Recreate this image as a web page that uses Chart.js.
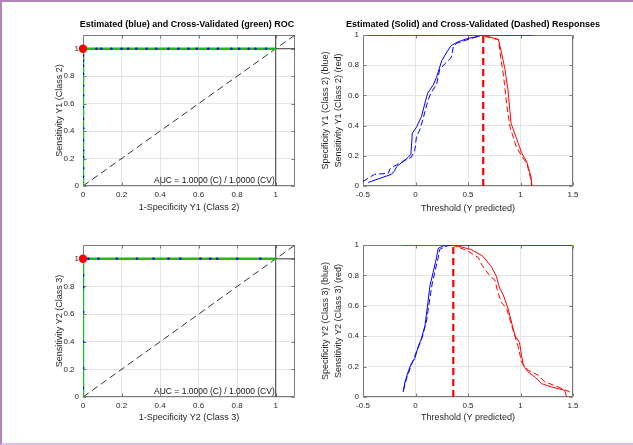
<!DOCTYPE html>
<html><head><meta charset="utf-8">
<script src="https://cdn.jsdelivr.net/npm/chart.js@4.4.1/dist/chart.umd.min.js"></script>
<style>
html,body{margin:0;padding:0;background:#fff;}
#fig{position:relative;width:633px;height:445px;overflow:hidden;background:#fff;}
canvas{position:absolute;}
#frame{position:absolute;left:0;top:0;width:633px;height:445px;box-sizing:border-box;border-top:2px solid #b583bb;border-left:2px solid #b583bb;border-bottom:2px solid #d9c0df;pointer-events:none;}
</style></head><body>
<div id="fig">
<canvas id="c1" width="374" height="222" style="left:0;top:0"></canvas>
<canvas id="c2" width="314" height="222" style="left:316px;top:0"></canvas>
<canvas id="c3" width="316" height="223" style="left:0;top:222px"></canvas>
<canvas id="c4" width="317" height="223" style="left:316px;top:222px"></canvas>
<div id="frame"></div>
</div>
<script>
// ---------- tick values / labels ----------
const rocTicks = [0, 0.2, 0.4, 0.6, 0.8, 1];
const rocXLabels = ['0', '0.2', '0.4', '0.6', '0.8', '1'];
const rocYLabels = ['0', '0.2\u2007', '0.4\u2007', '0.6\u2007', '0.8\u2007', '1'];
const respXTicks = [-0.5, 0, 0.5, 1, 1.5];
const respXLabels = ['-0.5', '0', '0.5', '1', '1.5'];
const respYTicks = [0, 0.2, 0.4, 0.6, 0.8, 1];
const respYLabels = ['0', '0.2', '0.4', '0.6', '0.8', '1'];

// ---------- ROC Y1 (Class 2) ----------
const roc1EstFpr = [0,0,0,0,0,0,0,0,0,0,0,0,0,0,0, 0.07,0.095,0.147,0.2,0.234,0.277,0.33,0.38,0.443,0.495,0.547,0.59,0.65,0.70,0.77,0.81,0.86,0.895,0.95];
const roc1EstTpr = [0.067,0.13,0.21,0.26,0.333,0.42,0.49,0.575,0.66,0.73,0.817,0.877,0.913,0.95,1, 1,1,1,1,1,1,1,1,1,1,1,1,1,1,1,1,1,1,1];
const roc1CvFpr = [0, 0, 1];
const roc1CvTpr = [0, 1, 1];
const roc1OptFpr = [0];
const roc1OptTpr = [1];
const auc1Text = 'AUC = 1.0000 (C) / 1.0000 (CV)';

// ---------- ROC Y2 (Class 3) ----------
const roc2EstFpr = [0,0,0,0,0,0,0, 0.028,0.08,0.175,0.28,0.366,0.444,0.505,0.61,0.66,0.696,0.8,0.92];
const roc2EstTpr = [0.065,0.21,0.4,0.615,0.795,0.88,1, 1,1,1,1,1,1,1,1,1,1,1,1];
const roc2CvFpr = [0, 0, 1];
const roc2CvTpr = [0, 1, 1];
const roc2OptFpr = [0];
const roc2OptTpr = [1];
const auc2Text = 'AUC = 1.0000 (C) / 1.0000 (CV)';

// reference lines of ROC plots
const diagX = [0, 1.1];
const diagY = [0, 1.1];
const refVX = [1, 1];
const refVY = [0, 1.1];
const refHX = [1, 1.1];
const refHY = [1, 1];

// ---------- Responses Y1 ----------
const r1SpecEstX = [-0.45,-0.23,-0.20,-0.18,-0.07,-0.044,-0.03,0.01,0.057,0.105,0.12,0.17,0.2,0.25,0.31,0.34,0.41,0.5,0.6,0.63,1.12];
const r1SpecEstY = [0.024,0.077,0.10,0.128,0.19,0.21,0.35,0.39,0.46,0.59,0.62,0.67,0.72,0.83,0.90,0.93,0.956,0.978,0.99,1,1];
const r1SpecCvX = [-0.5,-0.43,-0.39,-0.26,-0.24,-0.165,-0.07,-0.04,-0.006,0.01,0.04,0.07,0.12,0.15,0.2,0.23,0.28,0.34,0.36,0.39,0.5,0.61,0.65];
const r1SpecCvY = [0.03,0.06,0.077,0.084,0.117,0.146,0.18,0.19,0.24,0.33,0.37,0.44,0.57,0.62,0.67,0.77,0.81,0.85,0.92,0.945,0.97,0.995,1];
const r1SensEstX = [-0.45,0.63,0.69,0.79,0.82,0.85,0.88,0.91,0.98,1.01,1.06,1.1,1.11];
const r1SensEstY = [1,1,0.99,0.97,0.88,0.78,0.64,0.415,0.28,0.22,0.16,0.06,0];
const r1SensCvX = [-0.45,0.61,0.72,0.79,0.81,0.84,0.87,0.9,0.96,1.01,1.06,1.1,1.105];
const r1SensCvY = [1,1,0.98,0.97,0.86,0.72,0.53,0.39,0.26,0.2,0.15,0.04,0];
const r1Threshold = 0.645;

// ---------- Responses Y2 ----------
const r2SpecEstX = [-0.117,-0.10,-0.07,-0.04,-0.006,0.025,0.057,0.09,0.12,0.137,0.168,0.2,0.216,0.26,0.31,1.49];
const r2SpecEstY = [0.033,0.10,0.166,0.22,0.254,0.33,0.386,0.47,0.63,0.73,0.82,0.916,0.978,0.993,1,1];
const r2SpecCvX = [-0.117,-0.086,-0.04,0.01,0.057,0.105,0.137,0.16,0.19,0.216,0.23,0.28,0.34];
const r2SpecCvY = [0.04,0.12,0.21,0.3,0.376,0.5,0.65,0.75,0.84,0.916,0.97,0.99,1];
const r2SensEstX = [-0.117,0.34,0.406,0.53,0.64,0.72,0.77,0.8,0.835,0.88,0.93,0.95,0.99,1.025,1.07,1.14,1.2,1.295,1.42,1.44];
const r2SensEstY = [1,1,0.993,0.97,0.927,0.86,0.795,0.717,0.673,0.585,0.45,0.4,0.36,0.21,0.166,0.13,0.088,0.066,0.044,0];
const r2SensCvX = [0.34,0.406,0.5,0.6,0.63,0.71,0.755,0.787,0.82,0.867,0.914,0.978,1.01,1.07,1.17,1.23,1.36,1.47];
const r2SensCvY = [1,0.987,0.96,0.916,0.87,0.795,0.77,0.684,0.62,0.585,0.475,0.33,0.23,0.177,0.143,0.1,0.066,0.033];
const r2Threshold = 0.36;

// ---------- styling ----------
const FONT = '"Liberation Sans", Arial, Helvetica, sans-serif';
const TXT = '#262626';
const GRID = '#e4e4e4';
const BOX = '#7a7a7a';
const BLUE = '#0000ff';
const RED = '#ff0000';
const GREEN = '#16c016';

const zip = (xs, ys) => xs.map((x, i) => ({x: x, y: ys[i]}));

const boxPlugin = {
  id: 'box',
  beforeDatasetsDraw(chart) {
    const {ctx, chartArea: a, scales} = chart;
    ctx.save();
    ctx.strokeStyle = BOX;
    ctx.lineWidth = 1;
    ctx.beginPath();
    const L = Math.round(a.left) + 0.5, R = Math.round(a.right) - 0.5;
    const T = Math.round(a.top) + 0.5, B = Math.round(a.bottom) - 0.5;
    ctx.rect(L, T, R - L, B - T);
    const tl = 3;
    scales.x.ticks.forEach(t => {
      const px = Math.round(scales.x.getPixelForValue(t.value)) + 0.5;
      ctx.moveTo(px, B); ctx.lineTo(px, B - tl);
      ctx.moveTo(px, T); ctx.lineTo(px, T + tl);
    });
    scales.y.ticks.forEach(t => {
      const py = Math.round(scales.y.getPixelForValue(t.value)) + 0.5;
      ctx.moveTo(L, py); ctx.lineTo(L + tl, py);
      ctx.moveTo(R, py); ctx.lineTo(R - tl, py);
    });
    ctx.stroke();
    ctx.restore();
  },
  afterDatasetsDraw(chart, args, opts) {
    if (!opts || !opts.auc) return;
    const {ctx, scales} = chart;
    ctx.save();
    ctx.fillStyle = '#111';
    ctx.font = '8.5px ' + FONT;
    ctx.textAlign = 'right';
    ctx.textBaseline = 'middle';
    ctx.fillText(opts.auc, scales.x.getPixelForValue(1) - 1, scales.y.getPixelForValue(0) - 5);
    ctx.restore();
  }
};

function makeChart(id, o) {
  return new Chart(document.getElementById(id), {
    type: 'scatter',
    data: {datasets: o.datasets},
    options: {
      responsive: false, animation: false, devicePixelRatio: 1,
      events: [],
      layout: {padding: {left: 0, right: 0, top: o.padT, bottom: 0}},
      plugins: {
        legend: {display: false},
        tooltip: {enabled: false},
        title: o.title ? {display: true, text: o.title, fullSize: true, color: '#000',
          font: {family: FONT, size: 9, weight: 'bold', lineHeight: 1.2},
          padding: {top: 19.6, bottom: 4.6}} : {display: false},
        box: {auc: o.auc || null}
      },
      scales: {
        x: {
          type: 'linear', min: o.xMin, max: o.xMax,
          afterBuildTicks: s => { s.ticks = o.xTicks.map(v => ({value: v})); },
          afterFit: s => { s.height = o.xH; },
          ticks: {callback: (v, i) => o.xLabels[i], color: TXT, font: {family: FONT, size: 8}, padding: 4, maxRotation: 0, autoSkip: false},
          grid: {color: GRID, drawTicks: false, lineWidth: 1},
          border: {display: false},
          title: {display: true, text: o.xTitle, color: TXT, font: {family: FONT, size: 9, lineHeight: 1.2}, padding: {top: 0, bottom: o.xTitlePad}}
        },
        y: {
          type: 'linear', min: o.yMin, max: o.yMax,
          afterBuildTicks: s => { s.ticks = o.yTicks.map(v => ({value: v})); },
          afterFit: s => { s.width = o.yW; },
          ticks: {callback: (v, i) => o.yLabels[i], color: TXT, font: {family: FONT, size: 8}, padding: 4, autoSkip: false},
          grid: {color: GRID, drawTicks: false, lineWidth: 1},
          border: {display: false},
          title: {display: true, text: o.yTitle, color: TXT, font: {family: FONT, size: 9, lineHeight: o.yLH}, padding: {top: o.yTitlePad, bottom: 0}}
        },
        // empty right-hand margin box (keeps the figure margin to the right of the axes)
        yr: {
          type: 'linear', position: 'right', display: true,
          afterFit: s => { s.width = o.rightW; },
          ticks: {display: false},
          grid: {display: false, drawTicks: false},
          border: {display: false},
          title: {display: false}
        }
      }
    },
    plugins: [boxPlugin]
  });
}

function rocDatasets(estF, estT, cvF, cvT, optF, optT) {
  return [
    {data: zip(optF, optT), showLine: false, pointRadius: 4.2, pointBackgroundColor: RED, pointBorderColor: RED, pointBorderWidth: 0, clip: false},
    {data: zip(estF, estT), showLine: false, pointRadius: 1.3, pointBackgroundColor: BLUE, pointBorderWidth: 0},
    {data: zip(cvF, cvT), showLine: true, borderColor: GREEN, borderWidth: 2.5, pointRadius: 0},
    {data: zip(refHX, refHY), showLine: true, borderColor: '#3a3a3a', borderWidth: 1, pointRadius: 0},
    {data: zip(refVX, refVY), showLine: true, borderColor: '#3a3a3a', borderWidth: 1, pointRadius: 0},
    {data: zip(diagX, diagY), showLine: true, borderColor: '#333', borderWidth: 1, borderDash: [7, 4], pointRadius: 0}
  ];
}

function respDatasets(sEX, sEY, sCX, sCY, nEX, nEY, nCX, nCY, thr) {
  return [
    {data: zip([thr, thr], [0, 1]), showLine: true, borderColor: RED, borderWidth: 2.2, borderDash: [7, 4], pointRadius: 0},
    {data: zip(nCX, nCY), showLine: true, borderColor: RED, borderWidth: 1, borderDash: [6, 3], pointRadius: 0},
    {data: zip(sCX, sCY), showLine: true, borderColor: BLUE, borderWidth: 1, borderDash: [6, 3], pointRadius: 0},
    {data: zip(nEX, nEY), showLine: true, borderColor: RED, borderWidth: 1, pointRadius: 0},
    {data: zip(sEX, sEY), showLine: true, borderColor: BLUE, borderWidth: 1, pointRadius: 0}
  ];
}

makeChart('c1', {
  title: 'Estimated (blue) and Cross-Validated (green) ROC',
  padT: 0, rightW: 79, xH: 36, yW: 83,
  xMin: 0, xMax: 1.1, yMin: 0, yMax: 1.1,
  xTicks: rocTicks, xLabels: rocXLabels, yTicks: rocTicks, yLabels: rocYLabels,
  xTitle: '1-Specificity Y1 (Class 2)', xTitlePad: 9.5,
  yTitle: 'Sensitivity Y1 (Class 2)', yTitlePad: 54.6, yLH: 1.2,
  auc: auc1Text,
  datasets: rocDatasets(roc1EstFpr, roc1EstTpr, roc1CvFpr, roc1CvTpr, roc1OptFpr, roc1OptTpr)
});

makeChart('c2', {
  title: 'Estimated (Solid) and Cross-Validated (Dashed) Responses',
  padT: 0, rightW: 57, xH: 36, yW: 47,
  xMin: -0.5, xMax: 1.5, yMin: 0, yMax: 1,
  xTicks: respXTicks, xLabels: respXLabels, yTicks: respYTicks, yLabels: respYLabels,
  xTitle: 'Threshold (Y predicted)', xTitlePad: 7.6,
  yTitle: ['Specificity Y1 (Class 2) (blue)', 'Sensitivity Y1 (Class 2) (red)'], yTitlePad: 3.4, yLH: 1.4,
  datasets: respDatasets(r1SpecEstX, r1SpecEstY, r1SpecCvX, r1SpecCvY, r1SensEstX, r1SensEstY, r1SensCvX, r1SensCvY, r1Threshold)
});

makeChart('c3', {
  title: null,
  padT: 23, rightW: 21, xH: 48, yW: 83,
  xMin: 0, xMax: 1.1, yMin: 0, yMax: 1.1,
  xTicks: rocTicks, xLabels: rocXLabels, yTicks: rocTicks, yLabels: rocYLabels,
  xTitle: '1-Specificity Y2 (Class 3)', xTitlePad: 22,
  yTitle: 'Sensitivity Y2 (Class 3)', yTitlePad: 54.6, yLH: 1.2,
  auc: auc2Text,
  datasets: rocDatasets(roc2EstFpr, roc2EstTpr, roc2CvFpr, roc2CvTpr, roc2OptFpr, roc2OptTpr)
});

makeChart('c4', {
  title: null,
  padT: 23, rightW: 60, xH: 48, yW: 47,
  xMin: -0.5, xMax: 1.5, yMin: 0, yMax: 1,
  xTicks: respXTicks, xLabels: respXLabels, yTicks: respYTicks, yLabels: respYLabels,
  xTitle: 'Threshold (Y predicted)', xTitlePad: 22,
  yTitle: ['Specificity Y2 (Class 3) (blue)', 'Sensitivity Y2 (Class 3) (red)'], yTitlePad: 3.4, yLH: 1.4,
  datasets: respDatasets(r2SpecEstX, r2SpecEstY, r2SpecCvX, r2SpecCvY, r2SensEstX, r2SensEstY, r2SensCvX, r2SensCvY, r2Threshold)
});
</script>
</body></html>
